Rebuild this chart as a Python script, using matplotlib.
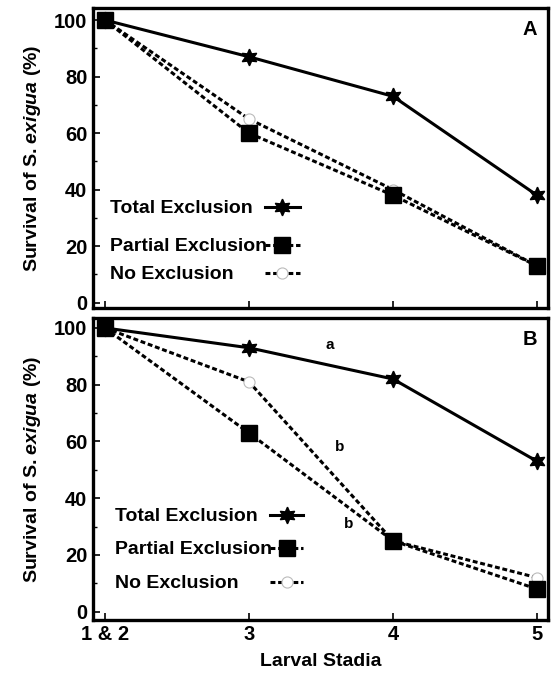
import matplotlib
matplotlib.use("Agg")
import matplotlib.pyplot as plt

plt.rcParams['font.family'] = ['Liberation Sans', 'DejaVu Sans']
plt.rcParams['font.weight'] = 'bold'
plt.rcParams['mathtext.fontset'] = 'custom'
plt.rcParams['mathtext.it'] = 'Liberation Sans:italic:bold'
plt.rcParams['mathtext.rm'] = 'Liberation Sans:bold'

stadia = ["1 & 2", "3", "4", "5"]
total_A = [100, 87, 73, 38]
partial_A = [100, 60, 38, 13]
none_A = [100, 65, 40, 13]
total_B = [100, 93, 82, 53]
partial_B = [100, 63, 25, 8]
none_B = [100, 81, 25, 12]
series_names = ["Total Exclusion", "Partial Exclusion", "No Exclusion"]
letters_B = [("a", 1.56, 94), ("b", 1.63, 58), ("b", 1.69, 31)]

x = list(range(len(stadia)))
star = (6, 1, 0)
dash = (0, (1.6, 0.9))
LW = 2.2

styles = [
    dict(color='black', lw=LW, linestyle='-', marker=star, ms=12, mfc='black', mec='black'),
    dict(color='black', lw=LW, linestyle=dash, marker='s', ms=11, mfc='black', mec='black'),
    dict(color='black', lw=LW, linestyle=dash, marker='o', ms=8, mfc='white',
         mec='#bbbbbb', mew=0.8),
]

fig = plt.figure(figsize=(5.53, 6.78), dpi=100)
axA = fig.add_axes([0.168, 0.546, 0.823, 0.442])
axB = fig.add_axes([0.168, 0.086, 0.823, 0.445])

def draw(ax, tot, par, non, ylim, letter, leg_x, leg_rows):
    ax.plot(x, non, zorder=2, **styles[2])
    ax.plot(x, par, zorder=3, **styles[1])
    ax.plot(x, tot, zorder=4, **styles[0])
    ax.set_xlim(-0.083, 3.076)
    ax.set_ylim(*ylim)
    ax.set_xticks(x)
    ax.set_yticks([0, 20, 40, 60, 80, 100])
    ax.set_yticks([10, 30, 50, 70, 90], minor=True)
    ax.tick_params(direction='in', length=5, width=1.2, labelsize=14.5, pad=4)
    ax.tick_params(which='minor', direction='in', length=3, width=1)
    for lab in ax.get_yticklabels() + ax.get_xticklabels():
        lab.set_fontweight('bold')
    for s in ax.spines.values():
        s.set_linewidth(2.4)
    ax.set_ylabel('Survival of S. $\\mathit{exigua}$ (%)', fontsize=14,
                  fontweight='bold', labelpad=8)
    ax.text(0.975, 0.96, letter, transform=ax.transAxes, ha='right', va='top',
            fontsize=14.5, fontweight='bold')
    # legend: left-aligned labels, aligned keys
    tx, k0, k1 = leg_x
    for name, st, yy in zip(series_names, styles, leg_rows):
        ax.text(tx, yy, name, transform=ax.transAxes, ha='left', va='center_baseline',
                fontsize=14, fontweight='bold')
        st2 = dict(st)
        st2['marker'] = 'None'
        ax.plot([k0, k1], [yy, yy], transform=ax.transAxes, clip_on=False, **st2)
        ax.plot([(k0 + k1) / 2], [yy], transform=ax.transAxes, clip_on=False,
                **{k: v for k, v in st.items() if k != 'linestyle'}, linestyle='None')

draw(axA, total_A, partial_A, none_A, (-1.8, 104.2), 'A',
     (0.037, 0.378, 0.455), (0.337, 0.21, 0.117))
axA.set_xticklabels([])
draw(axB, total_B, partial_B, none_B, (-2.8, 103.5), 'B',
     (0.048, 0.389, 0.462), (0.348, 0.238, 0.126))
axB.set_xticklabels(stadia)
for lab in axB.get_xticklabels():
    lab.set_fontweight('bold')
axB.set_xlabel('Larval Stadia', fontsize=14, fontweight='bold', labelpad=6)
for t, xx, yy in letters_B:
    axB.text(xx, yy, t, ha='center', va='center', fontsize=11, fontweight='bold')

fig.savefig('out.png', dpi=100)
